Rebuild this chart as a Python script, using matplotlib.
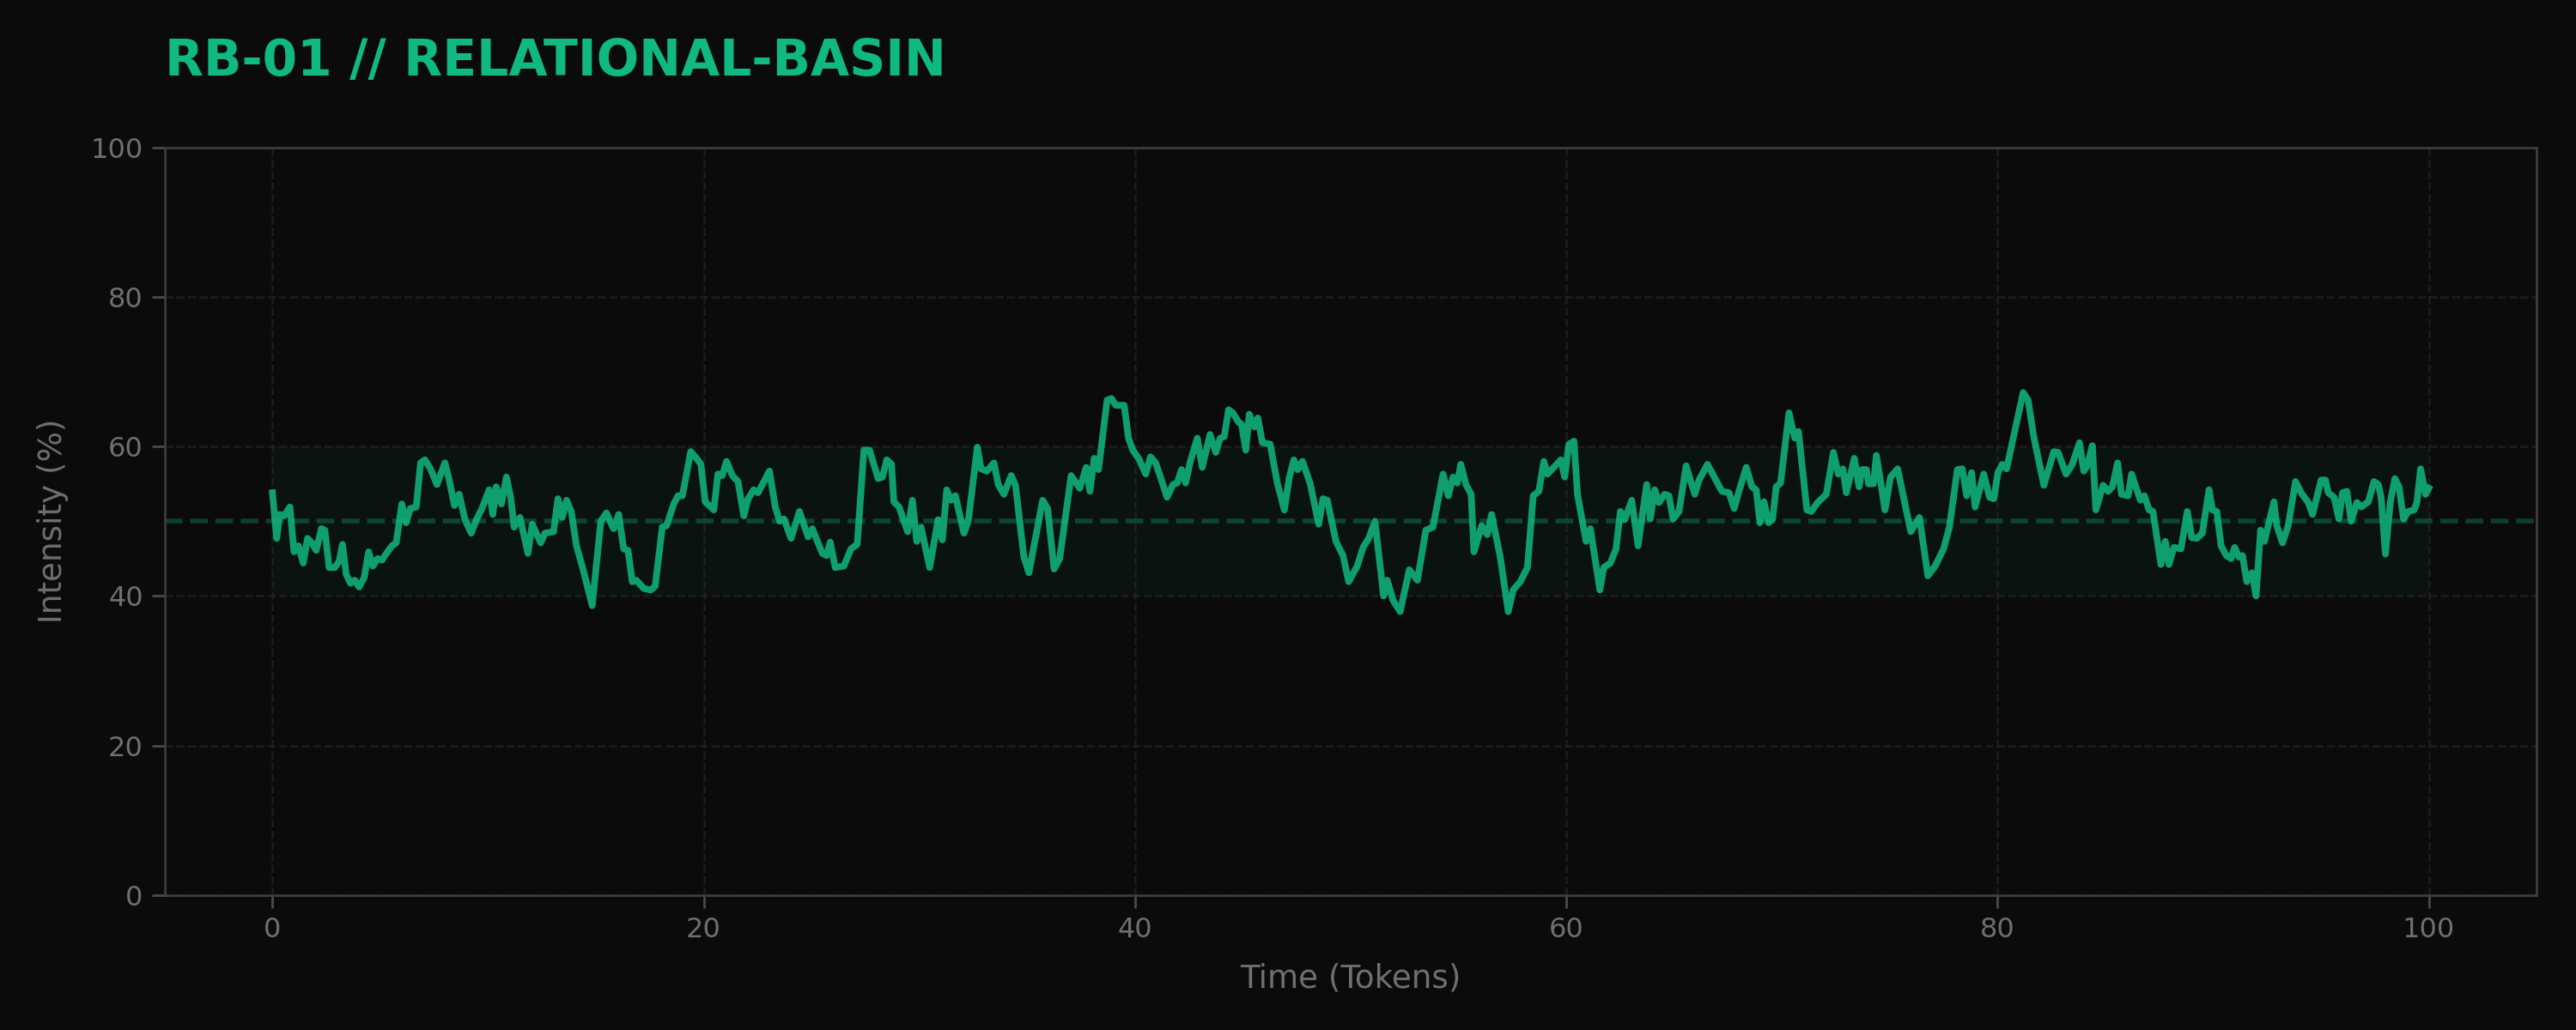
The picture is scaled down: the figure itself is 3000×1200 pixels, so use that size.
import matplotlib.pyplot as plt

# values
time_tokens = [
    0.0, 0.2, 0.33, 0.54, 0.81, 1.0, 1.21, 1.43, 1.63, 1.83, 2.03, 2.27, 2.43, 2.63, 2.89,
    3.09, 3.25, 3.42, 3.62, 3.82, 4.02, 4.26, 4.46, 4.66, 4.88, 5.08, 5.34, 5.54, 5.74, 6.0,
    6.2, 6.4, 6.67, 6.87, 7.07, 7.33, 7.63, 8.0, 8.2, 8.44, 8.66, 8.93, 9.22, 9.46, 9.72,
    10.05, 10.22, 10.38, 10.62, 10.85, 11.05, 11.21, 11.48, 11.85, 12.05,
    12.44, 12.64, 13.04, 13.24, 13.44, 13.64, 13.86, 14.1, 14.43, 14.83, 15.23, 15.49, 15.82,
    16.06, 16.29, 16.49, 16.69, 16.88, 17.22, 17.55, 17.75, 18.08, 18.28, 18.61, 18.81, 19.01,
    19.4, 19.67, 19.87, 20.07, 20.47, 20.66, 20.86, 21.06, 21.33, 21.59, 21.86, 22.06, 22.32,
    22.52, 23.05, 23.32, 23.52, 23.72, 24.05, 24.44, 24.84, 25.04,
    25.5, 25.7, 25.87, 26.1, 26.5, 26.83, 27.12, 27.43, 27.69, 28.09, 28.29, 28.49, 28.71,
    28.82, 29.06, 29.46, 29.68, 29.88, 30.08, 30.48, 30.87, 31.07, 31.27, 31.47, 31.67, 32.07,
    32.27, 32.69, 32.86, 33.13, 33.46, 33.66, 33.92, 34.26, 34.46, 34.85, 35.08, 35.72, 35.95,
    36.25, 36.51, 37.04, 37.44,
    37.74, 37.91, 38.11, 38.31, 38.71, 38.91, 39.11, 39.5, 39.7, 39.9, 40.17, 40.5, 40.72,
    40.96, 41.23, 41.49, 41.76, 41.96, 42.16, 42.35, 42.55, 42.89, 43.12, 43.48, 43.75, 43.95,
    44.14, 44.34, 44.54, 44.81, 44.94, 45.14, 45.3, 45.54, 45.7, 45.91, 46.27, 46.6, 46.93,
    47.16, 47.37, 47.55, 47.77, 48.12, 48.52, 48.72, 48.92, 49.32, 49.65, 49.91,
    50.31, 50.58, 50.84, 51.13, 51.53, 51.7, 51.97, 52.3, 52.72, 53.1, 53.49, 53.82, 54.29,
    54.53, 54.75, 54.95, 55.11, 55.35, 55.59, 55.72, 56.08, 56.34, 56.54, 56.94, 57.31, 57.54,
    57.87, 58.2, 58.47, 58.73, 58.96, 59.13, 59.75, 59.93, 60.12, 60.36, 60.52, 60.92, 61.12,
    61.56, 61.74, 62.05, 62.31, 62.51, 62.71,
    63.04, 63.33, 63.73, 63.9, 64.1, 64.3, 64.57, 64.76, 64.96, 65.23, 65.56, 65.96, 66.16,
    66.55, 67.22, 67.55, 67.79, 68.01, 68.35, 68.61, 68.81, 68.98, 69.17, 69.38, 69.57, 69.74,
    69.94, 70.33, 70.6, 70.77, 71.16, 71.37, 71.66, 72.06, 72.39, 72.62, 72.83, 72.99, 73.36,
    73.58, 73.72, 73.92, 74.02, 74.25, 74.38, 74.58, 74.78, 75.04, 75.37,
    75.78, 75.98, 76.38, 76.77, 77.11, 77.5, 77.77, 78.14, 78.37, 78.57, 78.8, 78.96, 79.36,
    79.63, 79.83, 80.02, 80.22, 80.42, 81.19, 81.42, 81.68, 82.15, 82.61, 82.81, 83.18, 83.47,
    83.8, 84.0, 84.16, 84.4, 84.56, 84.9, 85.13, 85.33, 85.57, 85.75, 86.06, 86.22, 86.39,
    86.63, 86.81, 87.03, 87.21, 87.58, 87.78, 87.95, 88.18,
    88.51, 88.8, 89.01, 89.24, 89.5, 89.81, 89.97, 90.17, 90.37, 90.61, 90.83, 91.0, 91.19,
    91.36, 91.56, 91.8, 91.99, 92.2, 92.38, 92.62, 92.82, 92.95, 93.22, 93.48, 93.82, 94.08,
    94.41, 94.61, 95.01, 95.21, 95.34, 95.61, 95.83, 96.0, 96.2, 96.4, 96.67, 96.87, 97.2,
    97.46, 97.66, 97.79, 97.99, 98.22, 98.43, 98.62, 98.83, 99.05, 99.32, 99.45, 99.62, 99.85,
    100.0,
]
intensity = [
    53.8, 47.7, 50.9, 50.7, 51.9, 45.9, 46.7, 44.4, 47.7, 47.1, 46.1, 49.0, 48.8, 43.8, 43.8,
    44.6, 46.9, 42.9, 41.7, 42.1, 41.2, 42.5, 45.9, 44.0, 45.0, 44.8, 45.9, 46.7, 47.1, 52.3,
    49.8, 51.7, 51.9, 57.8, 58.2, 57.0, 54.9, 57.8, 55.5, 52.1, 53.6, 50.2, 48.4, 50.2, 51.7,
    54.2, 50.9, 54.6, 52.3, 55.9, 53.2, 49.2, 50.5, 45.7, 49.6,
    47.1, 48.4, 48.6, 53.0, 50.5, 52.8, 51.3, 46.7, 43.3, 38.7, 50.0, 51.1, 49.0,
    50.9, 46.3, 46.1, 41.9, 42.1, 41.0, 40.8, 41.3, 49.2, 49.4, 52.3, 53.4, 53.4,
    59.3, 58.4, 57.6, 52.6, 51.5, 56.3, 56.1, 58.0, 56.1, 55.3, 50.7, 53.0, 54.2,
    53.8, 56.7, 51.9, 50.0, 50.3, 47.7, 51.3, 47.9, 49.0,
    45.7, 45.4, 47.2, 43.8, 44.0, 46.3, 46.9, 59.5, 59.5, 55.7, 55.9, 58.2, 57.6,
    52.6, 51.9, 48.6, 52.8, 47.3, 49.2, 43.8, 50.2, 47.5, 54.2, 52.8, 53.4, 48.4,
    50.0, 59.9, 57.0, 56.7, 57.8, 54.9, 53.6, 56.1, 54.8, 45.2, 43.1, 52.8, 51.7,
    43.6, 45.0, 56.1, 54.4,
    57.2, 54.0, 58.4, 56.9, 66.2, 66.4, 65.5, 65.5, 61.1, 59.5, 58.4, 56.3, 58.6,
    57.8, 55.5, 53.2, 54.9, 55.1, 56.9, 55.1, 57.8, 61.1, 57.2, 61.6, 59.2, 61.1,
    61.3, 64.9, 64.5, 63.2, 63.0, 59.5, 64.3, 62.6, 63.8, 60.5, 60.3, 55.1, 51.5,
    55.9, 58.2, 56.9, 58.0, 55.1, 49.6, 53.0, 52.8, 47.3, 45.4, 41.9,
    44.0, 46.5, 47.7, 50.0, 40.0, 42.1, 39.4, 37.9, 43.5, 42.1, 48.8, 49.2, 56.3,
    53.4, 55.9, 55.1, 57.6, 54.9, 53.6, 45.9, 49.4, 48.2, 50.9, 45.2, 37.9, 40.8,
    41.9, 43.8, 53.4, 54.0, 58.0, 56.3, 58.2, 55.9, 60.3, 60.7, 53.6, 47.3, 49.0,
    40.8, 43.8, 44.4, 46.3, 51.3, 50.2,
    52.8, 46.7, 54.9, 50.3, 54.2, 52.5, 53.6, 53.4, 50.3, 51.3, 57.4, 53.6, 55.5,
    57.6, 54.0, 53.8, 51.7, 54.0, 57.2, 54.6, 54.2, 49.8, 52.6, 49.8, 50.3, 54.6,
    55.1, 64.5, 61.1, 62.0, 51.5, 51.3, 52.5, 53.6, 59.2, 56.3, 57.0, 53.8, 58.4,
    54.6, 56.9, 56.9, 55.0, 55.0, 58.8, 55.3, 51.5, 55.9, 57.0,
    51.3, 48.6, 50.5, 42.7, 44.0, 46.3, 49.2, 56.9, 57.0, 53.4, 56.5, 51.9, 56.3,
    53.2, 53.0, 56.5, 57.6, 57.0, 67.2, 66.2, 61.3, 54.8, 59.3, 59.2, 56.3, 57.6,
    60.5, 56.7, 57.4, 60.1, 51.5, 54.8, 54.0, 54.6, 57.8, 53.6, 53.4, 56.3, 54.8,
    52.8, 53.4, 51.5, 51.3, 44.2, 47.3, 44.2, 46.5,
    46.3, 51.3, 47.8, 47.7, 48.4, 54.2, 51.5, 51.3, 46.7, 45.4, 45.0, 46.5, 45.2,
    45.4, 41.9, 43.1, 40.0, 48.8, 47.3, 50.2, 52.6, 49.4, 47.1, 49.4, 55.3, 53.8,
    52.5, 50.9, 55.5, 55.5, 53.8, 53.2, 50.3, 53.8, 54.0, 50.0, 52.5, 51.9, 52.6,
    55.3, 54.9, 53.2, 45.6, 52.6, 55.7, 54.6, 50.3, 51.3, 51.5, 52.5, 57.0, 53.6,
    54.4,
]

basin_low, basin_high = 40, 60
baseline = 50
x_ticks = [0, 20, 40, 60, 80, 100]
y_ticks = [0, 20, 40, 60, 80, 100]

BG = "#0b0b0b"
GREEN = "#10b981"
GREY = "#6f6f6f"

fig = plt.figure(figsize=(15, 6), dpi=200, facecolor=BG)
ax = fig.add_axes([0.0639, 0.131, 0.9208, 0.726])
ax.set_facecolor(BG)

# basin band + center line
ax.fill_between([time_tokens[0], time_tokens[-1]], basin_low, basin_high,
                color=GREEN, alpha=0.05, lw=0, zorder=1)
ax.axhline(baseline, color=GREEN, alpha=0.3, lw=2, ls="--", zorder=2)

ax.plot(time_tokens, intensity, color=GREEN, alpha=0.85, lw=2.8,
        solid_joinstyle="round", zorder=3)

ax.set_xlim(-5, 105)
ax.set_ylim(0, 100)
ax.set_xticks(x_ticks)
ax.set_yticks(y_ticks)
ax.grid(True, color="#2a2a2a", ls="--", lw=0.9, alpha=0.6, zorder=0)

for s in ax.spines.values():
    s.set_color("#3d3d3d")
    s.set_linewidth(1.0)
ax.tick_params(colors="#4a4a4a", labelcolor=GREY, labelsize=11.5, length=5.5, width=1)

ax.set_xlabel("Time (Tokens)", color=GREY, fontsize=13.4, labelpad=8)
ax.set_ylabel("Intensity (%)", color=GREY, fontsize=13.4, labelpad=9)
ax.set_title("RB-01 // RELATIONAL-BASIN", loc="left", color=GREEN,
             fontsize=21, fontweight="bold", pad=30)

fig.savefig("out.png", dpi=200, facecolor=BG)
